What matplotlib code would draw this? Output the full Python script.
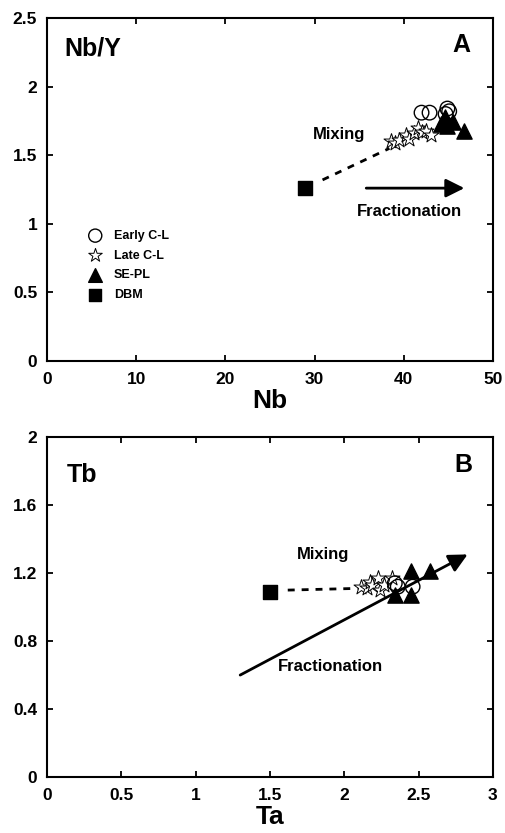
import matplotlib.pyplot as plt

plt.rcParams['font.family'] = ['Liberation Sans', 'DejaVu Sans']
plt.rcParams['font.weight'] = 'bold'

# Panel A: Nb vs Nb/Y
early_nb = [42.0, 42.9, 44.9, 45.1, 44.7]
early_nby = [1.81, 1.81, 1.84, 1.82, 1.80]
late_nb = [38.6, 39.0, 39.5, 40.3, 40.6, 41.2, 41.6, 42.0, 42.5, 43.1]
late_nby = [1.60, 1.59, 1.61, 1.65, 1.62, 1.66, 1.70, 1.67, 1.68, 1.65]
sepl_nb = [44.2, 44.9, 45.5, 46.8, 44.6]
sepl_nby = [1.73, 1.71, 1.74, 1.68, 1.78]
dbm_nb = [28.9]
dbm_nby = [1.26]
mix_a_x = [30.9, 38.4]
mix_a_y = [1.32, 1.55]
frac_a_start = (35.8, 1.26)
frac_a_end = (46.8, 1.26)

# Panel B: Ta vs Tb
early_ta = [2.34, 2.36, 2.46]
early_tb = [1.14, 1.12, 1.12]
late_ta = [2.11, 2.15, 2.17, 2.19, 2.23, 2.24, 2.27, 2.32]
late_tb = [1.12, 1.11, 1.15, 1.13, 1.17, 1.10, 1.13, 1.17]
sepl_ta = [2.45, 2.58, 2.34, 2.45]
sepl_tb = [1.21, 1.21, 1.07, 1.07]
dbm_ta = [1.5]
dbm_tb = [1.09]
mix_b_x = [1.62, 2.09]
mix_b_y = [1.10, 1.11]
frac_b_start = (1.30, 0.60)
frac_b_end = (2.83, 1.31)

fig = plt.figure(figsize=(5.05, 8.33), dpi=100)
ax1 = fig.add_axes([0.093, 0.5666, 0.883, 0.4118])
ax2 = fig.add_axes([0.093, 0.0672, 0.883, 0.408])


def style_axes(ax):
    for s in ax.spines.values():
        s.set_linewidth(1.5)
    ax.tick_params(direction='in', top=True, right=True, length=4, width=1.3,
                   labelsize=12.5, pad=8)
    ax.tick_params(axis='y', pad=7)
    for lab in ax.get_xticklabels() + ax.get_yticklabels():
        lab.set_fontweight('bold')


def draw_panel(ax, ex, ey, lx, ly, sx, sy, dx, dy, mx, my):
    ax.plot(mx, my, ls=(0, (2.5, 2.5)), color='black', lw=2)
    ax.scatter(lx, ly, marker='*', s=130, facecolor='white', edgecolor='black',
               linewidths=0.7, zorder=3, label='Late C-L')
    ax.scatter(ex, ey, marker='o', s=110, facecolor='none', edgecolor='black',
               linewidths=1.0, zorder=4, label='Early C-L')
    ax.scatter(sx, sy, marker='^', s=120, facecolor='black', edgecolor='black',
               zorder=5, label='SE-PL')
    ax.scatter(dx, dy, marker='s', s=100, facecolor='black', edgecolor='black',
               zorder=5, label='DBM')


# ---- Panel A ----
draw_panel(ax1, early_nb, early_nby, late_nb, late_nby, sepl_nb, sepl_nby,
           dbm_nb, dbm_nby, mix_a_x, mix_a_y)
ax1.annotate('', xy=frac_a_end, xytext=frac_a_start,
             arrowprops=dict(arrowstyle='-|>', color='black', lw=2,
                             mutation_scale=28, shrinkA=0, shrinkB=0))
ax1.set_xlim(0, 50)
ax1.set_ylim(0, 2.5)
ax1.set_xticks([0, 10, 20, 30, 40, 50])
ax1.set_yticks([0, 0.5, 1, 1.5, 2, 2.5])
ax1.set_yticklabels(['0', '0.5', '1', '1.5', '2', '2.5'])
ax1.set_xlabel('Nb', fontsize=19, fontweight='bold', labelpad=1)
ax1.text(1.9, 2.28, 'Nb/Y', fontsize=18, fontweight='bold', va='center')
ax1.text(46.5, 2.30, 'A', fontsize=18, fontweight='bold', ha='center', va='center')
ax1.text(32.8, 1.65, 'Mixing', fontsize=12, fontweight='bold', ha='center', va='center')
ax1.text(40.6, 1.09, 'Fractionation', fontsize=12, fontweight='bold', ha='center', va='center')

h, l = ax1.get_legend_handles_labels()
order = [1, 0, 2, 3]
ax1.legend([h[i] for i in order], [l[i] for i in order], loc='upper left',
           bbox_to_anchor=(0.055, 0.415), frameon=False,
           prop={'weight': 'bold', 'size': 9}, handletextpad=0.5,
           labelspacing=0.62, markerscale=0.9, scatterpoints=1)
style_axes(ax1)

# ---- Panel B ----
draw_panel(ax2, early_ta, early_tb, late_ta, late_tb, sepl_ta, sepl_tb,
           dbm_ta, dbm_tb, mix_b_x, mix_b_y)
ax2.annotate('', xy=frac_b_end, xytext=frac_b_start,
             arrowprops=dict(arrowstyle='-|>', color='black', lw=2,
                             mutation_scale=28, shrinkA=0, shrinkB=0))
ax2.set_xlim(0, 3)
ax2.set_ylim(0, 2)
ax2.set_xticks([0, 0.5, 1, 1.5, 2, 2.5, 3])
ax2.set_xticklabels(['0', '0.5', '1', '1.5', '2', '2.5', '3'])
ax2.set_yticks([0, 0.4, 0.8, 1.2, 1.6, 2])
ax2.set_yticklabels(['0', '0.4', '0.8', '1.2', '1.6', '2'])
ax2.set_xlabel('Ta', fontsize=19, fontweight='bold', labelpad=1)
ax2.text(0.13, 1.78, 'Tb', fontsize=18, fontweight='bold', va='center')
ax2.text(2.80, 1.835, 'B', fontsize=18, fontweight='bold', ha='center', va='center')
ax2.text(1.86, 1.31, 'Mixing', fontsize=12, fontweight='bold', ha='center', va='center')
ax2.text(1.91, 0.65, 'Fractionation', fontsize=12, fontweight='bold', ha='center', va='center')
style_axes(ax2)

plt.savefig('out.png', dpi=100)
